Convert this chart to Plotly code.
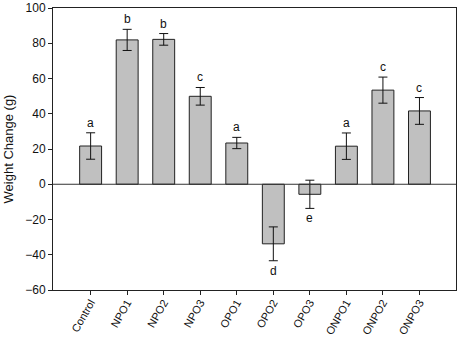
import plotly.graph_objects as go

categories = ["Control", "NPO1", "NPO2", "NPO3", "OPO1", "OPO2", "OPO3", "ONPO1", "ONPO2", "ONPO3"]
values = [21.7, 81.9, 82.2, 49.9, 23.4, -33.8, -5.7, 21.6, 53.4, 41.6]
errors = [7.5, 6.0, 3.3, 5.0, 3.2, 9.6, 8.0, 7.5, 7.4, 7.6]
letters = ["a", "b", "b", "c", "a", "d", "e", "a", "c", "c"]
yticks = [-60, -40, -20, 0, 20, 40, 60, 80, 100]

fig = go.Figure()
fig.add_trace(go.Bar(
    x=categories, y=values, width=0.6,
    marker=dict(color="#c0c0c0", line=dict(color="#222222", width=1)),
    error_y=dict(type="data", array=errors, color="#111111", thickness=1, width=4.5),
))

for c, v, e, l in zip(categories, values, errors, letters):
    if v >= 0:
        fig.add_annotation(x=c, y=v + e, text=l, showarrow=False, yanchor="bottom", yshift=1,
                           font=dict(family="Liberation Sans, Arial", size=12, color="#111111"))
    else:
        fig.add_annotation(x=c, y=v - e, text=l, showarrow=False, yanchor="top", yshift=-1,
                           font=dict(family="Liberation Sans, Arial", size=12, color="#111111"))

fig.add_shape(type="line", xref="paper", x0=0, x1=1, yref="y", y0=0, y1=0,
              line=dict(color="#333333", width=1))

fig.update_layout(
    width=459, height=337,
    margin=dict(l=53, r=3, t=8, b=47),
    paper_bgcolor="white", plot_bgcolor="white",
    showlegend=False,
    font=dict(family="Liberation Sans, Arial", size=11, color="#111111"),
    xaxis=dict(range=[-1.03, 10.0], tickangle=-60, ticks="outside", ticklen=4,
               tickcolor="#222222", showline=True, linecolor="#222222", linewidth=1,
               mirror=True, showgrid=False, tickfont=dict(size=11), automargin=False,
               ticklabelstandoff=-3),
    yaxis=dict(range=[-60, 100], tickvals=yticks, ticks="outside", ticklen=4,
               tickcolor="#222222", showline=True, linecolor="#222222", linewidth=1,
               mirror=True, showgrid=False, zeroline=False, tickfont=dict(size=12),
               automargin=False,
               title=dict(text="Weight Change (g)", font=dict(size=13), standoff=8)),
)

fig.write_html("out.html", post_script="document.body.style.margin='0';",
               config={"displayModeBar": False})
